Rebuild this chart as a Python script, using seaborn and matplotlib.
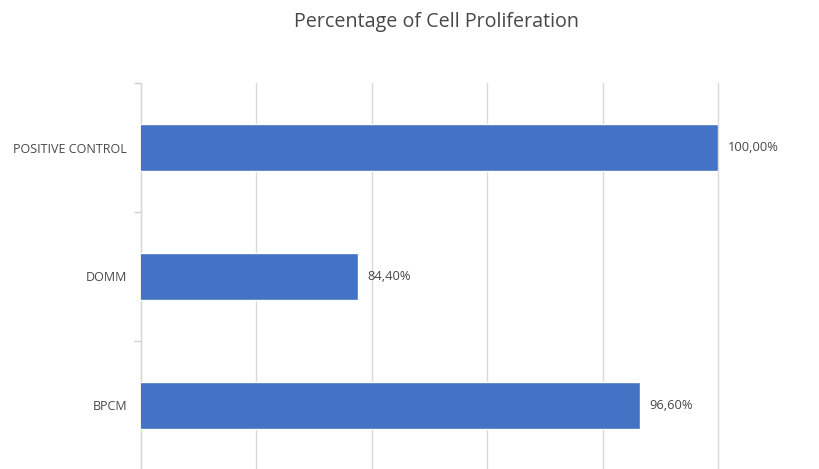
import matplotlib
matplotlib.use("Agg")
import matplotlib.pyplot as plt
import seaborn as sns
import pandas as pd
from matplotlib.ticker import MultipleLocator, FixedLocator

# data
categories = ["POSITIVE CONTROL", "DOMM", "BPCM"]
values = [100.0, 84.4, 96.6]
value_labels = ["100,00%", "84,40%", "96,60%"]

df = pd.DataFrame({"group": categories, "pct": values})

sns.set_style("white")
plt.rcParams["font.family"] = ["Open Sans", "DejaVu Sans"]

fig = plt.figure(figsize=(8.2, 4.69), dpi=100)
ax = fig.add_axes([0.172, -0.002, 0.7036, 0.825])

sns.barplot(data=df, x="pct", y="group", orient="h", color="#4472C4",
            width=0.36, saturation=1, ax=ax, zorder=3)

ax.set_xlim(75, 100)
ax.xaxis.set_major_locator(MultipleLocator(5))
ax.grid(axis="x", color="#d9d9d9", linewidth=1, zorder=0)
ax.set_axisbelow(True)
for gl in ax.get_xgridlines():
    gl.set_clip_on(False)
ax.tick_params(axis="x", length=0, labelbottom=False)

# category boundary ticks on the y axis
ax.set_ylim(2.5, -0.5)
ax.yaxis.set_minor_locator(FixedLocator([-0.5, 0.5, 1.5, 2.5]))
ax.tick_params(axis="y", which="major", left=False, length=0, labelsize=9,
               labelcolor="#484848", pad=10)
ax.tick_params(axis="y", which="minor", left=True, length=5, color="#d0d0d0", width=1)

for s in ["top", "right", "bottom"]:
    ax.spines[s].set_visible(False)
ax.spines["left"].set_color("#d9d9d9")
ax.spines["left"].set_linewidth(1)

ax.set_xlabel("")
ax.set_ylabel("")

for i, lab in enumerate(value_labels):
    ax.annotate(lab, xy=(values[i], i), xytext=(7, 0), textcoords="offset points",
                va="center", ha="left", fontsize=9.3, color="#484848")

fig.text(437 / 820, 1 - 22 / 469, "Percentage of Cell Proliferation",
         ha="center", va="center", fontsize=14.2, color="#484848")

fig.savefig("out.png", dpi=100)
